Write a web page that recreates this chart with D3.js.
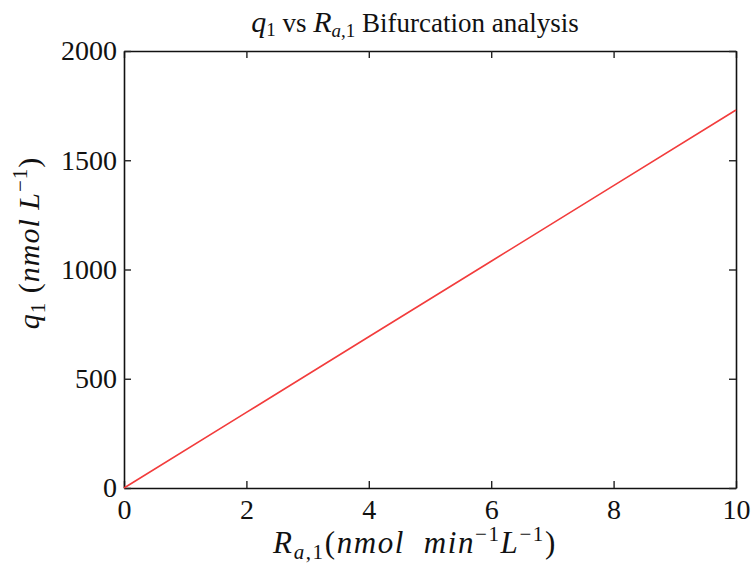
<!DOCTYPE html>
<html>
<head>
<meta charset="utf-8">
<script src="https://cdn.jsdelivr.net/npm/d3@7"></script>
<style>
  html, body { margin: 0; padding: 0; background: #fff; }
  svg text { font-family: "Liberation Serif", "DejaVu Serif", serif; fill: #111; }
</style>
</head>
<body>
<svg id="chart" width="756" height="568"></svg>
<script>
// Bifurcation branch: q1 against R_a,1
const raValues = [0, 2, 4, 6, 8, 10];
const q1Values = [0, 346, 692, 1038, 1384, 1730];
const xTicks = [0, 2, 4, 6, 8, 10];
const yTicks = [0, 500, 1000, 1500, 2000];

const W = 756, H = 568;
const margin = { left: 124, right: 20, top: 51, bottom: 80 };
const svg = d3.select("#chart");

const x = d3.scaleLinear().domain([0, 10]).range([margin.left, W - margin.right]);
const y = d3.scaleLinear().domain([0, 2000]).range([H - margin.bottom, margin.top]);

const tickLen = 7;
const fontSize = 28;

// inward ticks on all four sides (box style)
const axisBottom = d3.axisBottom(x).tickValues(xTicks).tickSize(-tickLen).tickSizeOuter(0).tickPadding(11).tickFormat(d3.format("d"));
const axisTop = d3.axisTop(x).tickValues(xTicks).tickSize(-tickLen).tickSizeOuter(0).tickFormat("");
const axisLeft = d3.axisLeft(y).tickValues(yTicks).tickSize(-tickLen).tickSizeOuter(0).tickPadding(7).tickFormat(d3.format("d"));
const axisRight = d3.axisRight(y).tickValues(yTicks).tickSize(-tickLen).tickSizeOuter(0).tickFormat("");

function styleAxis(g) {
  g.attr("font-family", null).attr("font-size", null);
  g.selectAll("path.domain").attr("stroke", "#111").attr("stroke-width", 1.6);
  g.selectAll(".tick line").attr("stroke", "#222").attr("stroke-width", 1.4);
  g.selectAll(".tick text").style("font-size", fontSize + "px").attr("fill", "#111");
}

svg.append("g").attr("transform", `translate(0,${y(0)})`).call(axisBottom).call(styleAxis);
svg.append("g").attr("transform", `translate(0,${y(2000)})`).call(axisTop).call(styleAxis);
svg.append("g").attr("transform", `translate(${x(0)},0)`).call(axisLeft).call(styleAxis);
svg.append("g").attr("transform", `translate(${x(10)},0)`).call(axisRight).call(styleAxis);

// the branch itself
const line = d3.line().x((d, i) => x(raValues[i])).y(d => y(d));
svg.append("path")
  .datum(q1Values)
  .attr("d", line)
  .attr("fill", "none")
  .attr("stroke", "#f23c3c")
  .attr("stroke-width", 1.6);

const midX = (margin.left + W - margin.right) / 2 - 15;

// title
const title = svg.append("text")
  .attr("x", midX)
  .attr("y", 32)
  .attr("text-anchor", "middle")
  .style("font-size", "27px");
title.append("tspan").attr("font-style", "italic").style("font-size", "30px").text("q");
title.append("tspan").attr("dy", 4).style("font-size", "19px").text("1");
title.append("tspan").attr("dy", -4).text(" vs ");
title.append("tspan").attr("font-style", "italic").style("font-size", "30px").text("R");
title.append("tspan").attr("dy", 5).attr("font-style", "italic").style("font-size", "19px").text("a");
title.append("tspan").style("font-size", "19px").text(",1");
title.append("tspan").attr("dy", -5).text(" Bifurcation analysis");

// x label
const xl = svg.append("text")
  .attr("x", midX)
  .attr("y", 553)
  .attr("text-anchor", "middle")
  .style("font-size", "31px")
  .style("letter-spacing", "1.6px");
xl.append("tspan").attr("font-style", "italic").text("R");
xl.append("tspan").attr("dy", 6).attr("font-style", "italic").style("font-size", "21px").text("a");
xl.append("tspan").style("font-size", "21px").text(",1");
xl.append("tspan").attr("dy", -6).text("(");
xl.append("tspan").attr("font-style", "italic").text("nmol\u00a0\u00a0min");
xl.append("tspan").attr("dy", -12).style("font-size", "21px").text("−1");
xl.append("tspan").attr("dy", 12).attr("font-style", "italic").text("L");
xl.append("tspan").attr("dy", -12).style("font-size", "21px").text("−1");
xl.append("tspan").attr("dy", 12).text(")");

// y label
const yl = svg.append("text")
  .attr("transform", `translate(39,243) rotate(-90)`)
  .attr("text-anchor", "middle")
  .style("font-size", "30px")
  .style("letter-spacing", "1px");
yl.append("tspan").attr("font-style", "italic").text("q");
yl.append("tspan").attr("dy", 6).style("font-size", "21px").text("1");
yl.append("tspan").attr("dy", -6).text(" (");
yl.append("tspan").attr("font-style", "italic").text("nmol\u00a0L");
yl.append("tspan").attr("dy", -12).style("font-size", "21px").text("−1");
yl.append("tspan").attr("dy", 12).text(")");
</script>
</body>
</html>
